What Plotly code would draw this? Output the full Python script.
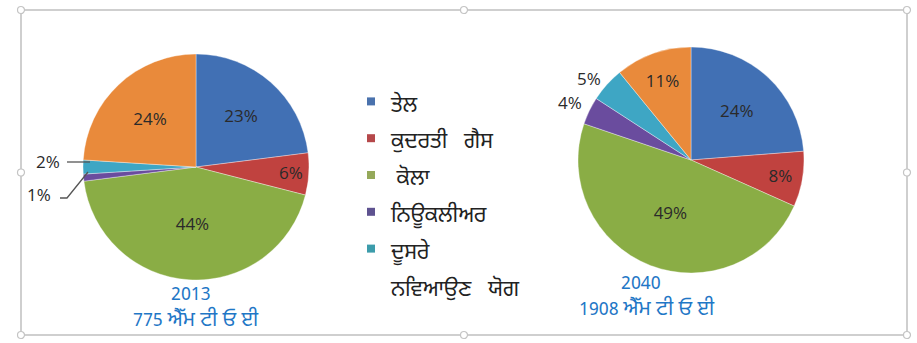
import plotly.graph_objects as go

# Energy mix shares (%) by source
NB = "\u00a0"
sources = ["ਤੇਲ", f"ਕੁਦਰਤੀ{NB*3}ਗੈਸ", f"{NB}ਕੋਲਾ", "ਨਿਊਕਲੀਅਰ", "ਦੂਸਰੇ", f"ਨਵਿਆਉਣ{NB*3}ਯੋਗ"]
shares_2013 = [23, 6, 44, 1, 2, 24]
shares_2040 = [24, 8, 49, 4, 5, 11]
colors = ["#4170b4", "#c0423f", "#8aad45", "#6a4c9e", "#3ea6c4", "#e98a3b"]
legend_colors = ["#4a72ad", "#b5484a", "#95a95a", "#5e5290", "#3c9cab", "rgba(0,0,0,0)"]
years = ["2013", "2040"]
totals = ["775", "1908"]
unit = f"ਐੱਮ{NB}ਟੀ{NB}ਓ{NB}ਈ"

W, H = 917, 343
GUR = "Noto Sans Gurmukhi, Noto Sans, DejaVu Sans, sans-serif"
NUM = "Open Sans, Noto Sans, sans-serif"


def px(x, y):
    return x / W, 1 - y / H


def inside_text(vals, small):
    return [f"{v}%" if v >= small else "" for v in vals]


fig = go.Figure()

pie_style = dict(
    labels=sources, sort=False, direction="clockwise", rotation=0,
    marker=dict(colors=colors, line=dict(color="rgba(255,255,255,0.6)", width=0.6)),
    textinfo="text", textposition="inside", insidetextorientation="horizontal",
    textfont=dict(family=NUM, size=17, color="#2a2a2a"),
    hoverinfo="label+value", showlegend=False,
)
fig.add_trace(go.Pie(
    values=shares_2013, text=inside_text(shares_2013, 5),
    domain=dict(x=[(196 - 113) / W, (196 + 113) / W], y=[(H - 167 - 114) / H, (H - 167 + 114) / H]),
    **pie_style,
))
fig.add_trace(go.Pie(
    values=shares_2040, text=inside_text(shares_2040, 6),
    domain=dict(x=[(691 - 113) / W, (691 + 113) / W], y=[(H - 160 - 114) / H, (H - 160 + 114) / H]),
    **pie_style,
))

# legend rows (the last row carries no swatch)
for name, col in zip(sources, legend_colors):
    fig.add_trace(go.Scatter(
        x=[None], y=[None], mode="markers", name=f'<span style="font-size:21.5px">{name}</span>',
        marker=dict(symbol="square", size=8, color=col), hoverinfo="skip",
    ))

annotations = []
pct_font = dict(family=NUM, size=17, color="#2a2a2a")

# outside labels for thin slices
for val, (x, y) in [(shares_2013[4], (48, 162)), (shares_2013[3], (39, 194)),
                    (shares_2040[3], (570, 103)), (shares_2040[4], (589, 78))]:
    ax, ay = px(x, y)
    annotations.append(dict(x=ax, y=ay, xref="paper", yref="paper", text=f"{val}%",
                            xanchor="center", yanchor="middle",
                            showarrow=False, font=pct_font))

# captions under each pie
title_font = dict(family=GUR, size=18, color="#1f77c6")
for year, total, (x, y0) in zip(years, totals, [(191, 295), (641, 284)]):
    lines = [year, f'{total}{NB}<span style="font-size:20.5px">{unit}</span>']
    for i, line in enumerate(lines):
        ax, ay = px(x + (5 if i else 0), y0 + i * 25)
        annotations.append(dict(x=ax, y=ay, xref="paper", yref="paper", text=line,
                                xanchor="center", yanchor="middle",
                                showarrow=False, font=title_font))

shapes = []
# leader lines for the 2% and 1% slices
for pts in [[(67, 162), (90, 162)], [(60, 198), (67, 198), (88, 172)]]:
    d = " ".join(("M" if i == 0 else "L") + f" {x / W} {1 - y / H}" for i, (x, y) in enumerate(pts))
    shapes.append(dict(type="path", path=d, xref="paper", yref="paper",
                       line=dict(color="#555555", width=1.3)))

# selection frame with handles
x0, x1, y0, y1 = 21, 907, 10, 335
shapes.append(dict(type="rect", xref="paper", yref="paper",
                   x0=x0 / W, x1=x1 / W, y0=1 - y1 / H, y1=1 - y0 / H,
                   line=dict(color="#cfcfcf", width=2)))
xm, ym = (x0 + x1) / 2, (y0 + y1) / 2
for hx, hy in [(x0, y0), (xm, y0), (x1, y0), (x0, ym), (x1, ym), (x0, y1), (xm, y1), (x1, y1)]:
    shapes.append(dict(type="circle", xref="paper", yref="paper",
                       x0=(hx - 3.5) / W, x1=(hx + 3.5) / W,
                       y0=1 - (hy + 3.5) / H, y1=1 - (hy - 3.5) / H,
                       line=dict(color="#c4c4c4", width=1.2), fillcolor="white"))

fig.update_layout(
    width=W, height=H, margin=dict(l=0, r=0, t=0, b=0),
    paper_bgcolor="white", plot_bgcolor="white",
    xaxis=dict(visible=False), yaxis=dict(visible=False),
    legend=dict(x=351 / W, y=1 - 78 / H, xanchor="left", yanchor="top",
                font=dict(family=GUR, size=26, color="#222222"),
                valign="middle", itemwidth=30, bgcolor="rgba(0,0,0,0)"),
    annotations=annotations, shapes=shapes,
)

fig.write_html("out.html")
